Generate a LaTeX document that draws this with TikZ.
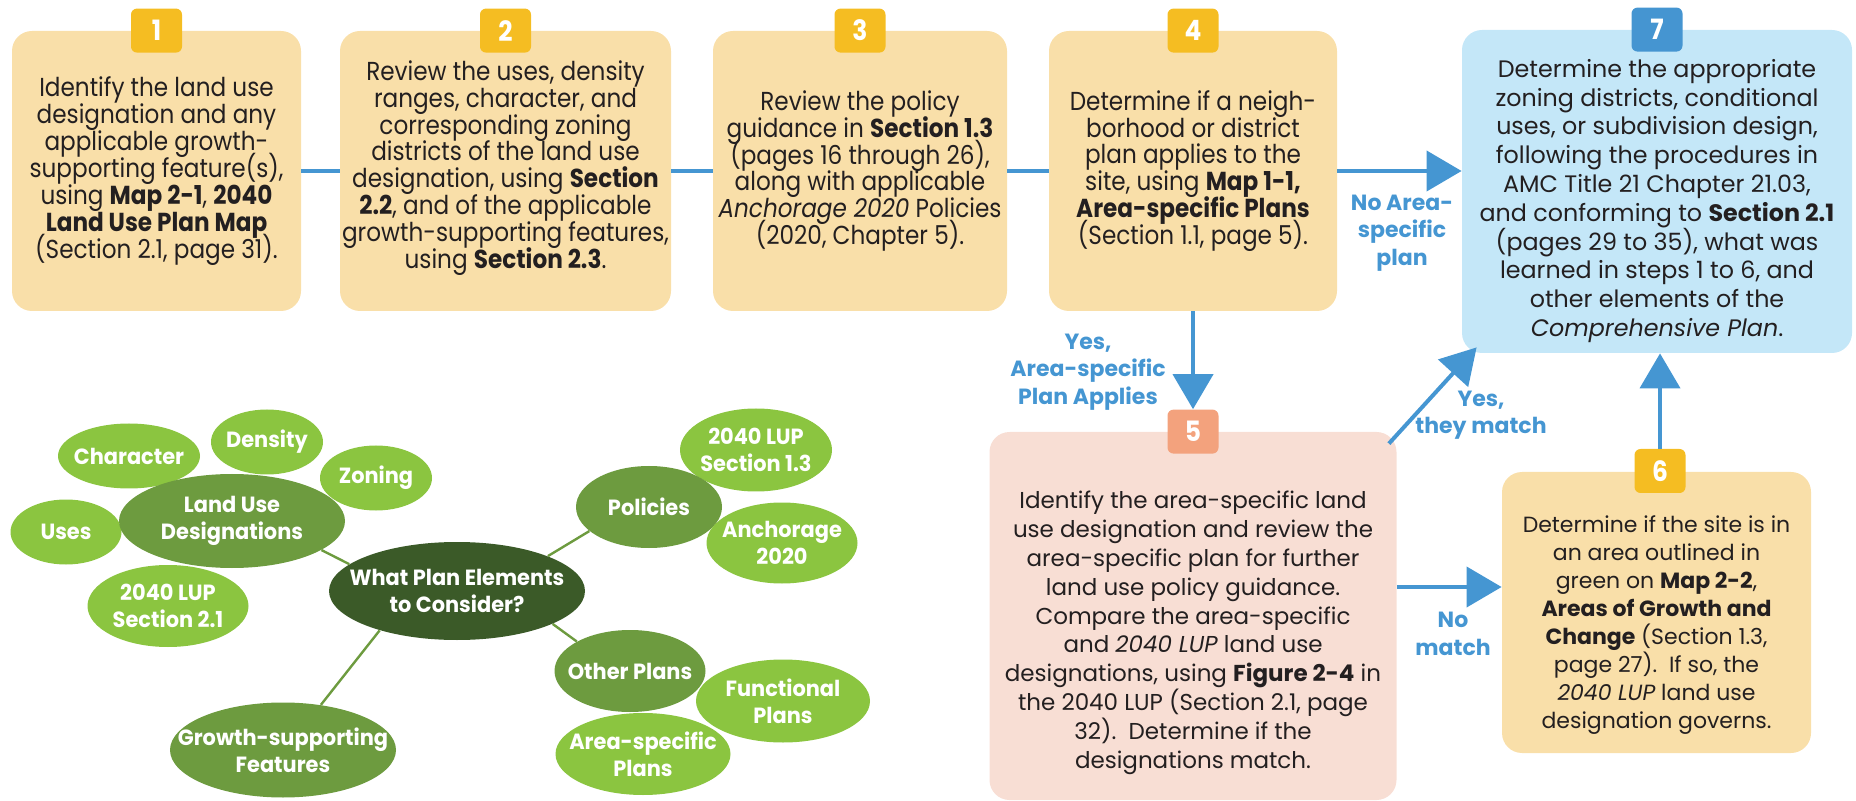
\documentclass[tikz,border=0pt]{standalone}
\usepackage{fontspec}
\setmainfont{Poppins}
\newfontfamily\narrowfont[FakeStretch=0.89]{Poppins}
\newfontfamily\tightfont[FakeStretch=0.95]{Poppins}
\usetikzlibrary{arrows.meta,shapes.geometric,positioning,calc}
\definecolor{ink}{HTML}{231F20}
\definecolor{peach}{HTML}{F9DFA9}
\definecolor{gold}{HTML}{F5BD22}
\definecolor{skyfill}{HTML}{C4E7F8}
\definecolor{skybadge}{HTML}{4595D1}
\definecolor{rosefill}{HTML}{F8DED4}
\definecolor{rosebadge}{HTML}{F3A27D}
\definecolor{flowblue}{HTML}{4596D2}
\definecolor{ltgreen}{HTML}{8BC540}
\definecolor{mdgreen}{HTML}{6D9B3F}
\definecolor{dkgreen}{HTML}{3B5A28}
\newcommand{\fixlines}{\lineskiplimit=-20pt\relax}
\tikzstyle{stepbox} =[rectangle, rounded corners=10pt, fill=peach, inner sep=0pt]
\tikzstyle{steptext}=[text=ink, align=center, inner sep=0pt,
                      font=\narrowfont\fontsize{13}{13.45}\selectfont\fixlines]
\tikzstyle{widetext}=[steptext, font=\fontsize{11}{14}\selectfont\fixlines]
\tikzstyle{badge}   =[rectangle, rounded corners=3pt, fill=gold,
                      text=white, minimum width=25.5pt, minimum height=22pt,
                      inner sep=0pt, font=\narrowfont\bfseries\fontsize{14}{14}\selectfont]
\tikzstyle{link}    =[draw=flowblue, line width=2pt]
\tikzstyle{flow}    =[link, -{Triangle[length=17.5pt, width=20pt]}]
\tikzstyle{lbl}     =[text=flowblue, align=center, inner sep=0pt,
                      font=\bfseries\fontsize{11}{13.8}\selectfont\fixlines]
\tikzstyle{bubble}  =[ellipse, text=white, align=center, inner xsep=-25pt,
                      inner ysep=-10pt, font=\tightfont\bfseries\fontsize{11}{13.5}\selectfont]
\tikzstyle{hub}     =[bubble, fill=dkgreen]
\tikzstyle{branch}  =[bubble, fill=mdgreen]
\tikzstyle{leaf}    =[bubble, fill=ltgreen]
\tikzstyle{spoke}   =[draw=mdgreen, line width=1.2pt]
\begin{document}
\begin{tikzpicture}[x=0.5pt, y=-0.5pt]
  \useasboundingbox (0,0) rectangle (1856,801);
  \node[stepbox, minimum width=144.5pt, minimum height=140pt] (s1) at (156.5,171) {};
  \node[stepbox, minimum width=165.5pt, minimum height=140pt] (s2) at (505.5,171) {};
  \node[stepbox, minimum width=147pt, minimum height=140pt] (s3) at (860,171) {};
  \node[stepbox, minimum width=144pt, minimum height=140pt] (s4) at (1193,171) {};
  \node[stepbox, fill=skyfill, minimum width=195pt, minimum height=161.5pt] (s7) at (1657,191.5) {};
  \node[stepbox, fill=rosefill, minimum width=203.5pt, minimum height=184pt] (s5) at (1193,616) {};
  \node[stepbox, minimum width=154.5pt, minimum height=140.5pt] (s6) at (1656.5,612.5) {};
  \node[steptext] (t1) at (s1.center)
    {Identify the land use\\ designation and any\\ applicable growth-\\ supporting feature(s),\\
     using \textbf{Map 2-1}, \textbf{2040}\\ \textbf{Land Use Plan Map}\\ (Section 2.1, page 31).};
  \node[steptext] (t2) at ([yshift=1.5pt]s2.center)
    {Review the uses, density\\ ranges, character, and\\ corresponding zoning\\ districts of the land use\\
     designation, using \textbf{Section}\\ \textbf{2.2}, and of the applicable\\
     growth-supporting features,\\ using \textbf{Section 2.3}.};
  \node[steptext] (t3) at (s3.center)
    {Review the policy\\ guidance in \textbf{Section 1.3}\\ (pages 16 through 26),\\ along with applicable\\
     \textit{Anchorage 2020} Policies\\ (2020, Chapter 5).};
  \node[steptext] (t4) at (s4.center)
    {Determine if a neigh-\\ borhood or district\\ plan applies to the\\ site, using \textbf{Map 1-1,}\\
     \textbf{Area-specific Plans}\\ (Section 1.1, page 5).};
  \node[widetext, font=\fontsize{11.9}{14.4}\selectfont\fixlines] (t7) at ([yshift=-4.7pt]s7.center)
    {Determine the appropriate\\ zoning districts, conditional\\ uses, or subdivision design,\\
     following the procedures in\\ AMC Title 21 Chapter 21.03,\\ and conforming to \textbf{Section 2.1}\\
     (pages 29 to 35), what was\\ learned in steps 1 to 6, and\\ other elements of the\\
     \textit{Comprehensive Plan}.};
  \node[widetext, font=\fontsize{11.5}{14.45}\selectfont\fixlines] (t5) at ([yshift=-8.4pt]s5.center)
    {Identify the area-specific land\\ use designation and review the\\ area-specific plan for further\\
     land use policy guidance.\\ Compare the area-specific\\ and \textit{2040 LUP} land use\\
     designations, using \textbf{Figure 2-4} in\\ the 2040 LUP (Section 2.1, page\\
     32).\ \ Determine if the\\ designations match.};
  \node[widetext] (t6) at ([yshift=-6.5pt]s6.center)
    {Determine if the site is in\\ an area outlined in\\ green on \textbf{Map 2-2},\\
     \textbf{Areas of Growth and}\\ \textbf{Change} (Section 1.3,\\ page 27).\ \ If so, the\\
     \textit{2040 LUP} land use\\ designation governs.};
  \node[badge] (b1) at (s1.north) {1};
  \node[badge] (b2) at (s2.north) {2};
  \node[badge] (b3) at (s3.north) {3};
  \node[badge] (b4) at (s4.north) {4};
  \node[badge, fill=skybadge] (b7) at (s7.north) {7};
  \node[badge, fill=rosebadge] (b5) at (s5.north) {5};
  \node[badge] (b6) at (1660,471) {6};
  \coordinate (m5) at ($(s5.east)+(0,-29)$);
  \draw[link] (s1) -- (s2);
  \draw[link] (s2) -- (s3);
  \draw[link] (s3) -- (s4);
  \draw[flow] (s4.east) -- (s4.east -| s7.west);
  \draw[flow] (s4.south) -- (b5.north);
  \draw[flow] ($(s5.north east)+(-8,12)$) -- ($(s7.south west)+(15,-6)$);
  \draw[flow] (m5) -- (m5 -| s6.west);
  \draw[flow] (b6.north) -- (b6.north |- s7.south);
  \node[lbl] (noarea) at (1402,233) {No Area-\\ specific\\ plan};
  \node[lbl] (yesarea) at (1088,372) {Yes,\\ Area-specific\\ Plan Applies};
  \node[lbl] (yesmatch) at (1481,415) {Yes,\\ they match};
  \node[lbl] (nomatch) at (1453,634) {No\\ match};
  \node[leaf, minimum width=71pt, minimum height=32.5pt] (character) at (129,456) {Character};
  \node[leaf, minimum width=56pt, minimum height=32.5pt] (density) at (267,442) {Density};
  \node[leaf, minimum width=56pt, minimum height=32.5pt] (zoning) at (376,478) {Zoning};
  \node[leaf, minimum width=55.5pt, minimum height=32.5pt] (uses) at (66,532) {Uses};
  \node[branch, minimum width=113pt, minimum height=47pt] (lud) at (232,521) {Land Use\\ Designations};
  \node[leaf, minimum width=80.5pt, minimum height=41pt] (lup21) at (168,606) {2040 LUP\\ Section 2.1};
  \node[hub, minimum width=128pt, minimum height=49pt] (what) at (457,591) {What Plan Elements\\ to Consider?};
  \node[branch, minimum width=113pt, minimum height=47.5pt] (growth) at (283,750) {Growth-supporting\\ Features};
  \node[leaf, minimum width=76pt, minimum height=41.5pt] (lup13) at (756,450) {2040 LUP\\ Section 1.3};
  \node[branch, minimum width=73pt, minimum height=41pt] (policies) at (649,507) {Policies};
  \node[leaf, minimum width=75.5pt, minimum height=40.5pt] (anchorage) at (782,543) {Anchorage\\ 2020};
  \node[branch, minimum width=75.5pt, minimum height=41pt] (other) at (630,671) {Other Plans};
  \node[leaf, minimum width=87pt, minimum height=41.5pt] (functional) at (783,701) {Functional\\ Plans};
  \node[leaf, minimum width=87.5pt, minimum height=41pt] (areaspec) at (643,754) {Area-specific\\ Plans};
  \draw[spoke] (what.166) -- (lud.-18);
  \draw[spoke] (what.21) -- (policies.202);
  \draw[spoke] (what.-19) -- (other.151);
  \draw[spoke] (what.207) -- (growth.50);
\end{tikzpicture}
\end{document}
